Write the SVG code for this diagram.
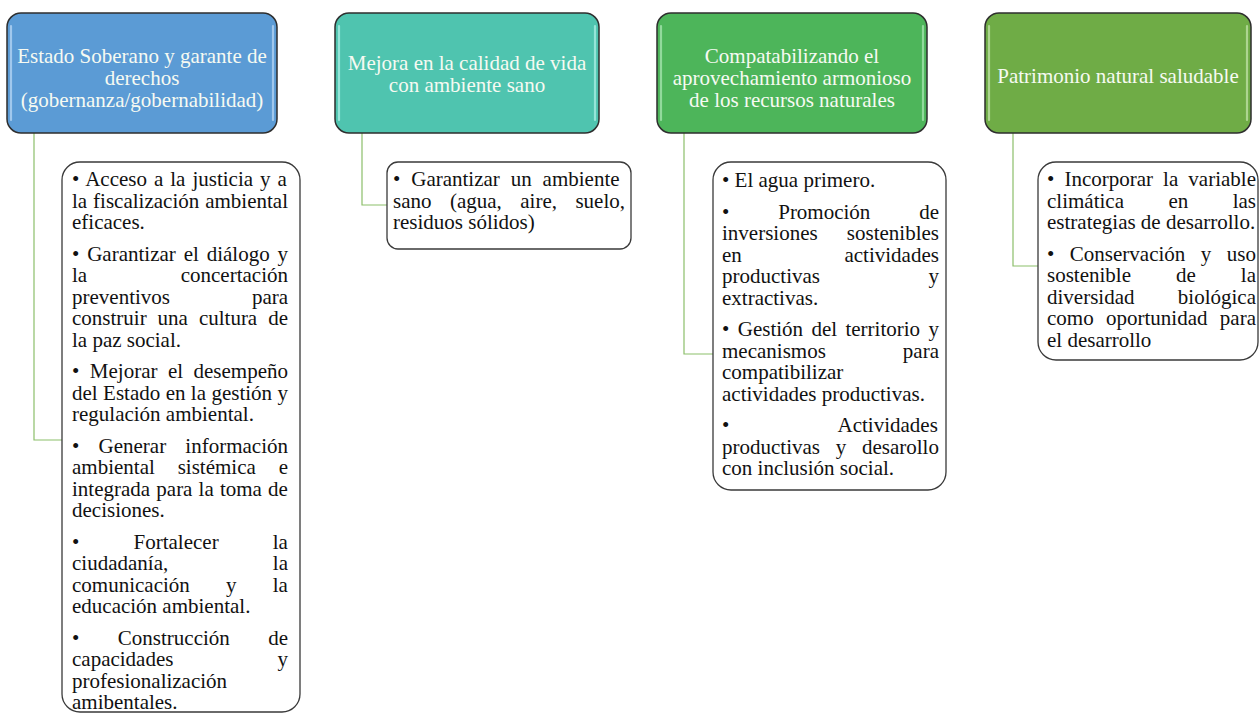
<svg xmlns="http://www.w3.org/2000/svg" width="1259" height="713" viewBox="0 0 1259 713">
<style>
.hdr{stroke:#2e2e2e;stroke-width:1.5}
.gl{fill:none;stroke-width:2.2;stroke-linecap:round;opacity:0.8}
.ht{font-family:"Liberation Serif","Times New Roman",serif;font-size:21px;fill:#F6FAF2;text-anchor:middle}
.box{fill:#FFFFFF;stroke:#3a3a3a;stroke-width:1.3}
.bt{font-family:"Liberation Serif","Times New Roman",serif;font-size:21px;fill:#111111}
.con{fill:none;stroke:#8CBF6A;stroke-width:1.2}
</style>
<rect width="1259" height="713" fill="#FFFFFF"/>
<g id="connectors">
<path class="con" d="M34,133 V440 H62"/>
<path class="con" d="M362,133 V205 H387"/>
<path class="con" d="M684,133 V354 H713"/>
<path class="con" d="M1013,133 V266 H1038"/>
</g>
<g id="h1">
<rect class="hdr" x="7" y="13" width="270" height="120" rx="14" fill="#5B9BD5"/>
<path class="gl" stroke="#B3D3F2" d="M11,26 V120 M273,26 V120"/>
<text class="ht" x="142" y="63">Estado Soberano y garante de</text>
<text class="ht" x="142" y="85">derechos</text>
<text class="ht" x="142" y="107">(gobernanza/gobernabilidad)</text>
</g>
<g id="h2">
<rect class="hdr" x="335" y="13" width="264" height="120" rx="14" fill="#4FC4AF"/>
<path class="gl" stroke="#A8EEE2" d="M339,26 V120 M595,26 V120"/>
<text class="ht" x="467" y="70">Mejora en la calidad de vida</text>
<text class="ht" x="467" y="92">con ambiente sano</text>
</g>
<g id="h3">
<rect class="hdr" x="657" y="13" width="270" height="120" rx="14" fill="#4DB55A"/>
<path class="gl" stroke="#A4E3AC" d="M661,26 V120 M923,26 V120"/>
<text class="ht" x="792" y="63">Compatabilizando el</text>
<text class="ht" x="792" y="85">aprovechamiento armonioso</text>
<text class="ht" x="792" y="107">de los recursos naturales</text>
</g>
<g id="h4">
<rect class="hdr" x="985" y="13" width="266" height="120" rx="14" fill="#6FAC46"/>
<path class="gl" stroke="#BDE0A3" d="M989,26 V120 M1247,26 V120"/>
<text class="ht" x="1118" y="83">Patrimonio natural saludable</text>
</g>
<g id="b1">
<rect class="box" x="62" y="162" width="238" height="550" rx="18"/>
<text class="bt" x="72" y="186" style="word-spacing:1.73px">• Acceso a la justicia y a</text>
<text class="bt" x="72" y="207.5" style="word-spacing:0.7px">la fiscalización ambiental</text>
<text class="bt" x="72" y="229">eficaces.</text>
<text class="bt" x="72" y="260.5" style="word-spacing:2.6px">• Garantizar el diálogo y</text>
<text class="bt" x="72" y="282" style="word-spacing:88.3px">la concertación</text>
<text class="bt" x="72" y="303.5" style="word-spacing:76.7px">preventivos para</text>
<text class="bt" x="72" y="325" style="word-spacing:5.71px">construir una cultura de</text>
<text class="bt" x="72" y="346.5">la paz social.</text>
<text class="bt" x="72" y="378" style="word-spacing:5.21px">• Mejorar el desempeño</text>
<text class="bt" x="72" y="399.5" style="word-spacing:0.16px">del Estado en la gestión y</text>
<text class="bt" x="72" y="421">regulación ambiental.</text>
<text class="bt" x="72" y="452.5" style="word-spacing:13.94px">• Generar información</text>
<text class="bt" x="72" y="474" style="word-spacing:17.6px">ambiental sistémica e</text>
<text class="bt" x="72" y="495.5" style="word-spacing:0.93px">integrada para la toma de</text>
<text class="bt" x="72" y="517">decisiones.</text>
<text class="bt" x="72" y="548.5" style="word-spacing:48.9px">• Fortalecer la</text>
<text class="bt" x="72" y="570" style="word-spacing:99.4px">ciudadanía, la</text>
<text class="bt" x="72" y="591.5" style="word-spacing:31px">comunicación y la</text>
<text class="bt" x="72" y="613">educación ambiental.</text>
<text class="bt" x="72" y="644.5" style="word-spacing:33.2px">• Construcción de</text>
<text class="bt" x="72" y="666" style="word-spacing:98.8px">capacidades y</text>
<text class="bt" x="72" y="687.5">profesionalización</text>
<text class="bt" x="72" y="709">amibentales.</text>
</g>
<g id="b2">
<rect class="box" x="387" y="162" width="244" height="87" rx="11"/>
<text class="bt" x="393" y="186" style="word-spacing:5.63px">• Garantizar un ambiente</text>
<text class="bt" x="393" y="207.5" style="word-spacing:13.19px">sano (agua, aire, suelo,</text>
<text class="bt" x="393" y="229">residuos sólidos)</text>
</g>
<g id="b3">
<rect class="box" x="713" y="162" width="233" height="328" rx="18"/>
<text class="bt" x="722" y="187">• El agua primero.</text>
<text class="bt" x="722" y="218.5" style="word-spacing:43.6px">• Promoción de</text>
<text class="bt" x="722" y="240" style="word-spacing:23.9px">inversiones sostenibles</text>
<text class="bt" x="722" y="261.5" style="word-spacing:97.4px">en actividades</text>
<text class="bt" x="722" y="283" style="word-spacing:103.3px">productivas y</text>
<text class="bt" x="722" y="304.5">extractivas.</text>
<text class="bt" x="722" y="336" style="word-spacing:3.12px">• Gestión del territorio y</text>
<text class="bt" x="722" y="357.5" style="word-spacing:71.8px">mecanismos para</text>
<text class="bt" x="722" y="379">compatibilizar</text>
<text class="bt" x="722" y="400.5">actividades productivas.</text>
<text class="bt" x="722" y="432" style="word-spacing:104.1px">• Actividades</text>
<text class="bt" x="722" y="453.5" style="word-spacing:10.5px">productivas y desarollo</text>
<text class="bt" x="722" y="475">con inclusión social.</text>
</g>
<g id="b4">
<rect class="box" x="1038" y="162" width="220" height="198" rx="18"/>
<text class="bt" x="1047" y="186" style="word-spacing:4.82px">• Incorporar la variable</text>
<text class="bt" x="1047" y="207.5" style="word-spacing:39.2px">climática en las</text>
<text class="bt" x="1047" y="229">estrategias de desarrollo.</text>
<text class="bt" x="1047" y="260.5" style="word-spacing:10.25px">• Conservación y uso</text>
<text class="bt" x="1047" y="282" style="word-spacing:39.75px">sostenible de la</text>
<text class="bt" x="1047" y="303.5" style="word-spacing:38.1px">diversidad biológica</text>
<text class="bt" x="1047" y="325" style="word-spacing:7.1px">como oportunidad para</text>
<text class="bt" x="1047" y="346.5">el desarrollo</text>
</g>
</svg>
